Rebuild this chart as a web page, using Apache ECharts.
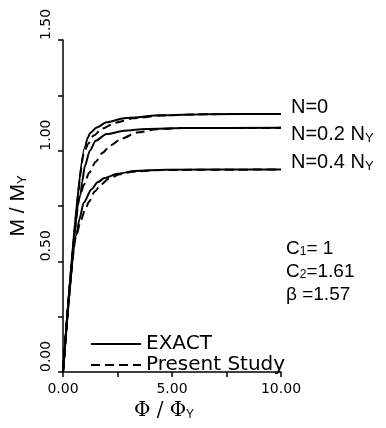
<!DOCTYPE html>
<html>
<head>
<meta charset="utf-8">
<script src="https://cdn.jsdelivr.net/npm/echarts@6/dist/echarts.min.js"></script>
<style>
  html, body { margin: 0; padding: 0; background: #fff; }
  #main { width: 386px; height: 428px; }
</style>
</head>
<body>
<div id="main"></div>
<script>
// curves: [phi/phiY, M/MY]
const exactN0 = [[0, 0], [1.02, 1.02], [1.12, 1.055], [1.25, 1.08], [1.55, 1.105], [2.0, 1.128], [2.8, 1.147], [4.5, 1.16], [6.5, 1.165], [10, 1.166]];
const exactN02 = [[0, 0], [0.8, 0.8], [0.88, 0.86], [1.0, 0.93], [1.23, 1.0], [1.5, 1.045], [2.0, 1.075], [2.8, 1.09], [3.8, 1.098], [5.5, 1.102], [10, 1.103]];
const exactN04 = [[0, 0], [0.62, 0.62], [0.75, 0.69], [0.95, 0.765], [1.3, 0.825], [1.6, 0.858], [1.9, 0.876], [2.5, 0.896], [3.3, 0.908], [4.7, 0.914], [10, 0.915]];
const studyN0 = [[0, 0], [1.0, 1.0], [1.15, 1.03], [1.4, 1.068], [1.8, 1.1], [2.4, 1.126], [3.2, 1.146], [4.5, 1.159], [6.5, 1.165], [10, 1.166]];
const studyN02 = [[0, 0], [0.8, 0.8], [0.95, 0.845], [1.2, 0.9], [1.5, 0.95], [1.8, 0.99], [2.2, 1.025], [2.7, 1.055], [3.4, 1.082], [4.3, 1.097], [5.5, 1.102], [10, 1.103]];
const studyN04 = [[0, 0], [0.62, 0.62], [0.8, 0.68], [1.0, 0.73], [1.2, 0.77], [1.45, 0.815], [1.75, 0.848], [2.1, 0.873], [2.6, 0.893], [3.2, 0.905], [4.5, 0.913], [10, 0.915]];

const legendNames = ['EXACT', 'Present Study'];
const curveLabels = ['N=0', 'N=0.2 N{s|Y}', 'N=0.4 N{s|Y}'];
const paramLines = ['C{s|1}= 1', 'C{s|2}=1.61', 'β =1.57'];

const FONT = '"Liberation Sans", sans-serif';
const chart = echarts.init(document.getElementById('main'));

function curve(name, data, dashed, endText, endOffset) {
    const s = {
        name: name,
        type: 'line',
        data: data,
        symbol: 'none',
        smooth: 0.25,
        smoothMonotone: 'x',
        lineStyle: {color: '#000', width: 2, type: dashed ? [9, 5] : 'solid'},
        itemStyle: {color: '#000'},
        z: dashed ? 3 : 2
    };
    if (endText) {
        s.endLabel = {
            show: true,
            formatter: endText,
            distance: 10,
            offset: endOffset,
            color: '#000',
            fontFamily: FONT,
            fontSize: 20,
            rich: {s: {fontSize: 13, fontFamily: FONT, color: '#000', verticalAlign: 'bottom', padding: [7, 0, 0, 0]}}
        };
    }
    return s;
}

chart.setOption({
    animation: false,
    textStyle: {fontFamily: FONT},
    grid: {left: 61, right: 105, top: 40, bottom: 56},
    legend: {
        data: legendNames,
        orient: 'vertical',
        left: 90,
        top: 334,
        padding: 0,
        itemWidth: 50,
        itemHeight: 14,
        itemGap: 1,
        itemStyle: {opacity: 0},
        textStyle: {color: '#000', fontSize: 20, lineHeight: 18, fontFamily: '"DejaVu Sans", sans-serif'}
    },
    xAxis: {
        type: 'value',
        min: 0,
        max: 10,
        interval: 2.5,
        name: 'Φ / Φ{s|Y}',
        nameLocation: 'middle',
        nameGap: 27,
        nameTextStyle: {
            color: '#000', fontSize: 20, fontFamily: '"DejaVu Serif", serif', padding: [0, 16, 0, 0],
            rich: {s: {fontSize: 12, fontFamily: FONT, color: '#000', verticalAlign: 'bottom', padding: [8, 0, 0, 0]}}
        },
        axisLine: {onZero: false, lineStyle: {color: '#000', width: 1.5}},
        axisTick: {length: 5, lineStyle: {color: '#000', width: 1.5}},
        splitLine: {show: false},
        axisLabel: {
            color: '#000', fontSize: 14, fontFamily: '"DejaVu Sans", sans-serif', margin: 10,
            formatter: v => (v % 5 === 0 ? v.toFixed(2) : '')
        }
    },
    yAxis: {
        type: 'value',
        min: 0,
        max: 1.5,
        interval: 0.25,
        name: 'M / M{s|Y}',
        nameLocation: 'middle',
        nameRotate: 90,
        nameGap: 34,
        nameTextStyle: {
            color: '#000', fontSize: 21, fontFamily: FONT,
            rich: {s: {fontSize: 13, fontFamily: FONT, color: '#000', verticalAlign: 'bottom', padding: [8, 0, 0, 0]}}
        },
        axisLine: {onZero: false, lineStyle: {color: '#000', width: 1.5}},
        axisTick: {length: 5, lineStyle: {color: '#000', width: 1.5}},
        splitLine: {show: false},
        axisLabel: {
            color: '#000', fontSize: 14, fontFamily: '"DejaVu Sans", sans-serif',
            rotate: 90, align: 'left', verticalAlign: 'bottom', margin: 10,
            formatter: v => (Math.abs(v * 2 - Math.round(v * 2)) < 1e-9 ? v.toFixed(2) : '')
        }
    },
    graphic: paramLines.map((t, i) => ({
        type: 'text',
        left: 286,
        top: 239 + i * 23,
        style: {
            text: t,
            fill: '#000',
            font: '19px ' + FONT,
            rich: {s: {fontSize: 12, fontFamily: FONT, fill: '#000', verticalAlign: 'bottom', padding: [7, 0, 0, 0]}}
        }
    })),
    series: [
        curve(legendNames[0], exactN0, false, curveLabels[0], [0, -6]),
        curve(legendNames[0], exactN02, false, curveLabels[1], [0, 7]),
        curve(legendNames[0], exactN04, false, curveLabels[2], [0, -7]),
        curve(legendNames[1], studyN0, true),
        curve(legendNames[1], studyN02, true),
        curve(legendNames[1], studyN04, true)
    ]
});
</script>
</body>
</html>
